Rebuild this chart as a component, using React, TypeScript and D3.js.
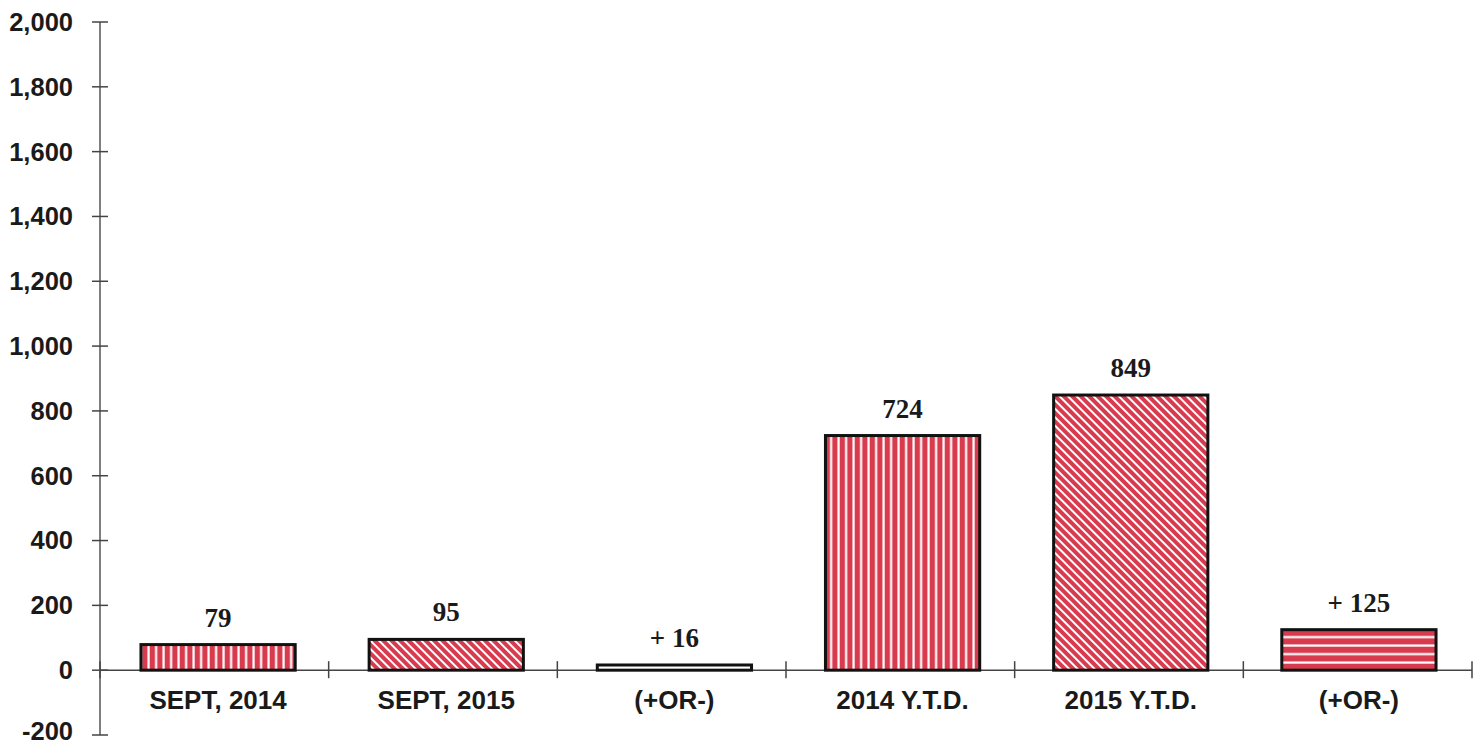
import * as d3 from "d3";
import { useEffect, useRef } from "react";

const categories = ["SEPT, 2014", "SEPT, 2015", "(+OR-)", "2014 Y.T.D.", "2015 Y.T.D.", "(+OR-)"];
const values = [79, 95, 16, 724, 849, 125];
const valueLabels = ["79", "95", "+ 16", "724", "849", "+ 125"];
const fills = ["vert", "diag", "none", "vert", "diag", "horiz"];
const yTicks = [-200, 0, 200, 400, 600, 800, 1000, 1200, 1400, 1600, 1800, 2000];

const RED = "#d83a4e";

const App = () => {
  const ref = useRef<SVGSVGElement>(null);

  useEffect(() => {
    const svg = d3.select(ref.current);
    svg.selectAll("*").remove();

    const width = 1476, height = 746;
    const left = 100, right = 1472;

    const y = d3.scaleLinear().domain([-200, 2000]).range([735, 22]);
    const x = d3.scaleBand().domain(d3.range(categories.length).map(String)).range([104, 1473]).paddingInner(0.324).paddingOuter(0.162);

    const defs = svg.append("defs");
    const vert = defs.append("pattern").attr("id", "vert").attr("patternUnits", "userSpaceOnUse").attr("width", 7.5).attr("height", 10);
    vert.append("rect").attr("width", 7.5).attr("height", 10).attr("fill", RED);
    vert.append("rect").attr("x", 5).attr("width", 2.2).attr("height", 10).attr("fill", "#fff");

    const diag = defs.append("pattern").attr("id", "diag").attr("patternUnits", "userSpaceOnUse").attr("width", 6).attr("height", 6).attr("patternTransform", "rotate(-45)");
    diag.append("rect").attr("width", 6).attr("height", 6).attr("fill", RED);
    diag.append("rect").attr("x", 0).attr("width", 2).attr("height", 6).attr("fill", "#fff");

    const horiz = defs.append("pattern").attr("id", "horiz").attr("patternUnits", "userSpaceOnUse").attr("width", 10).attr("height", 8.5).attr("y", 1);
    horiz.append("rect").attr("width", 10).attr("height", 8.5).attr("fill", RED);
    horiz.append("rect").attr("y", 6).attr("width", 10).attr("height", 2.2).attr("fill", "#fff");

    // y axis
    svg.append("line").attr("x1", left).attr("x2", left).attr("y1", y(2000)).attr("y2", y(-200)).attr("stroke", "#555").attr("stroke-width", 1.5);
    svg.selectAll(".ytick").data(yTicks).enter().append("line")
      .attr("x1", left - 8).attr("x2", left + 8).attr("y1", (d) => y(d)).attr("y2", (d) => y(d))
      .attr("stroke", "#444").attr("stroke-width", 1.5);
    svg.selectAll(".ylab").data(yTicks).enter().append("text")
      .attr("x", 73).attr("y", (d) => (d === -200 ? y(d) - 4 : y(d))).attr("dy", "0.35em").attr("text-anchor", "end")
      .attr("font-family", "Liberation Sans, Arial, sans-serif").attr("font-weight", "bold").attr("font-size", 25.5).attr("fill", "#1a1a1a")
      .text((d) => d3.format(",")(d).replace("\u2212", "-"));

    // x axis
    svg.append("line").attr("x1", left).attr("x2", right).attr("y1", y(0)).attr("y2", y(0)).attr("stroke", "#444").attr("stroke-width", 1.5);
    const step = (right - left) / categories.length;
    const bounds = d3.range(categories.length + 1).map((i) => left + i * step);
    svg.selectAll(".xtick").data(bounds).enter().append("line")
      .attr("x1", (d) => d).attr("x2", (d) => d).attr("y1", y(0) - 9).attr("y2", y(0) + 8)
      .attr("stroke", "#444").attr("stroke-width", 1.5);

    // bars
    svg.selectAll(".bar").data(values).enter().append("rect")
      .attr("x", (_, i) => x(String(i))!)
      .attr("width", x.bandwidth())
      .attr("y", (d) => y(d))
      .attr("height", (d) => y(0) - y(d))
      .attr("fill", (_, i) => (fills[i] === "none" ? "#fff" : `url(#${fills[i]})`))
      .attr("stroke", "#111").attr("stroke-width", 3);

    // value labels
    svg.selectAll(".val").data(values).enter().append("text")
      .attr("x", (_, i) => x(String(i))! + x.bandwidth() / 2)
      .attr("y", (d) => y(d) - 18)
      .attr("text-anchor", "middle")
      .attr("font-family", "Liberation Serif, Times New Roman, serif").attr("font-weight", "bold").attr("font-size", 27).attr("fill", "#1a1a1a")
      .text((_, i) => valueLabels[i]);

    // category labels
    svg.selectAll(".cat").data(categories).enter().append("text")
      .attr("x", (_, i) => x(String(i))! + x.bandwidth() / 2)
      .attr("y", 709)
      .attr("text-anchor", "middle")
      .attr("font-family", "Liberation Sans, Arial, sans-serif").attr("font-weight", "bold").attr("font-size", 26).attr("fill", "#1a1a1a")
      .text((d) => d);

    svg.attr("width", width).attr("height", height);
  }, []);

  return (
    <div style={{ position: "absolute", left: 0, top: 0, background: "#fff" }}>
      <svg ref={ref} width={1476} height={746} style={{ display: "block" }} />
    </div>
  );
};

export default App;
